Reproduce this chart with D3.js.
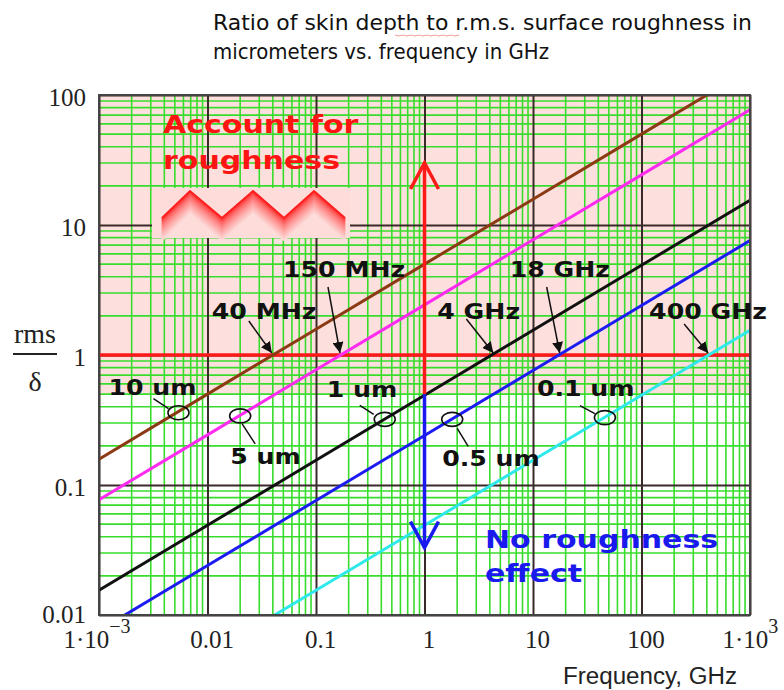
<!DOCTYPE html>
<html>
<head>
<meta charset="utf-8">
<script src="https://cdn.jsdelivr.net/npm/d3@7"></script>
<style>
  body { margin: 0; background: #fff; }
</style>
</head>
<body>
<svg id="chart" width="784" height="690"></svg>
<script>
// ---- data ----
const freqGHz = [0.001, 0.01, 0.1, 1, 10, 100, 1000];
const ratio10um = [0.158, 0.50, 1.58, 5.0, 15.8, 50, 158];
const ratio5um = [0.077, 0.243, 0.77, 2.43, 7.7, 24.3, 77];
const ratio1um = [0.0155, 0.049, 0.155, 0.49, 1.55, 4.9, 15.5];
const ratio05um = [0.0076, 0.024, 0.076, 0.24, 0.76, 2.4, 7.6];
const ratio01um = [0.0015, 0.0049, 0.0155, 0.049, 0.155, 0.49, 1.55];

const roughnessLabels = ["10 um", "5 um", "1 um", "0.5 um", "0.1 um"];
const markerFreqGHz = [0.0054, 0.02, 0.43, 1.8, 46];
const markerRatio = [0.36, 0.34, 0.32, 0.32, 0.33];

const crossingLabels = ["40 MHz", "150 MHz", "4 GHz", "18 GHz", "400 GHz"];
const crossingFreqGHz = [0.04, 0.17, 4.4, 18, 420];

const xTickValues = [0.001, 0.01, 0.1, 1, 10, 100, 1000];
const xTickLabels = ["1·10", "0.01", "0.1", "1", "10", "100", "1·10"];
const yTickValues = [0.01, 0.1, 1, 10, 100];
const yTickLabels = ["0.01", "0.1", "1", "10", "100"];

const thresholdRatio = 1;     // red line
const arrowBase = 0.5;        // where red/blue arrows meet
const arrowUpTip = 30;
const arrowDownTip = 0.033;
const arrowFreq = 1;

// ---- layout ----
const svg = d3.select("#chart");
const L = 99, R = 750, T = 95, B = 615;
const x = d3.scaleLog().domain([1e-3, 1e3]).range([L, R]);
const y = d3.scaleLog().domain([0.01, 100]).range([B, T]);

const series = [
  { values: ratio10um, color: "#8c3a14" },
  { values: ratio5um, color: "#ff2bf0" },
  { values: ratio1um, color: "#111111" },
  { values: ratio05um, color: "#1c1cf2" },
  { values: ratio01um, color: "#2ee8ea" },
];

const boldFont = "'DejaVu Sans', Verdana, sans-serif";
const serifFont = "'Liberation Serif', 'Times New Roman', serif";

// the reference text is stretched horizontally
function stretch(sel, k) {
  sel.each(function () {
    const n = this.getComputedTextLength();
    d3.select(this).attr("textLength", n * k).attr("lengthAdjust", "spacingAndGlyphs");
  });
  return sel;
}

// title
const title = svg.append("g").attr("font-family", boldFont).attr("font-size", 22).attr("fill", "#111");
title.append("text").attr("x", 213).attr("y", 30)
  .text("Ratio of skin depth to r.m.s. surface roughness in")
  .attr("textLength", 539).attr("lengthAdjust", "spacingAndGlyphs");
title.append("text").attr("x", 213).attr("y", 59)
  .text("micrometers vs. frequency in GHz")
  .attr("textLength", 336).attr("lengthAdjust", "spacingAndGlyphs");
// spell-check squiggle under r.m.s
const sq = d3.range(0, 17).map((i) => [395 + i * 4, 35 + (i % 2)]);
svg.append("path").attr("d", d3.line()(sq)).attr("fill", "none")
  .attr("stroke", "#f29a9a").attr("stroke-width", 1);

// background regions
svg.append("rect").attr("x", L).attr("y", T).attr("width", R - L).attr("height", B - T).attr("fill", "#fff");
svg.append("rect").attr("x", L).attr("y", y(100)).attr("width", R - L)
  .attr("height", y(arrowBase) - y(100)).attr("fill", "#fde0dd");

// grid
const minorX = x.ticks().filter((v) => !xTickValues.includes(v));
const minorY = y.ticks().filter((v) => !yTickValues.includes(v));
const grid = svg.append("g");
const green = "#38dc2c";
grid.selectAll("line.gx").data(minorX).join("line").attr("class", "gx")
  .attr("x1", (d) => x(d)).attr("x2", (d) => x(d)).attr("y1", T).attr("y2", B)
  .attr("stroke", green).attr("stroke-width", 1.6);
grid.selectAll("line.gy").data(minorY).join("line").attr("class", "gy")
  .attr("y1", (d) => y(d)).attr("y2", (d) => y(d)).attr("x1", L).attr("x2", R)
  .attr("stroke", green).attr("stroke-width", 1.6);

// decade lines + labels via axes
const xAxis = svg.append("g").attr("transform", `translate(0,${B})`)
  .call(d3.axisBottom(x).tickValues(xTickValues).tickSize(-(B - T)).tickPadding(14)
    .tickFormat((d, i) => xTickLabels[i]));
const yAxis = svg.append("g").attr("transform", `translate(${L},0)`)
  .call(d3.axisLeft(y).tickValues(yTickValues).tickSize(-(R - L)).tickPadding(13)
    .tickFormat((d, i) => yTickLabels[i]));
[xAxis, yAxis].forEach((a) => {
  a.select(".domain").remove();
  a.selectAll(".tick line").attr("stroke", "#3a2a2a").attr("stroke-width", 2);
  a.selectAll(".tick text").attr("font-family", serifFont).attr("font-size", 25).attr("fill", "#222");
});
xAxis.selectAll(".tick text").attr("dy", "0.74em").attr("dx", 4);
yAxis.selectAll(".tick text").attr("dy", "0.42em");
yAxis.selectAll(".tick text").filter((d) => d === 0.01).attr("dy", "0.3em");
// superscript exponents on the end labels
xAxis.selectAll(".tick text").filter((d, i) => i === 0 || i === xTickValues.length - 1)
  .attr("text-anchor", "start")
  .attr("dx", (d, i) => (i === 0 ? -36 : -28))
  .each(function (d) {
    d3.select(this).append("tspan").attr("font-size", 20).attr("dy", "-0.75em")
      .text(d < 1 ? "\u22123" : "3");
  });

// zigzag roughness picture
const zz = svg.append("g");
zz.append("rect").attr("x", 152).attr("y", 188).attr("width", 198).attr("height", 50).attr("fill", "#fddcda");
const zig = [[162, 218], [190, 191], [222, 218], [253, 191], [284, 218], [314, 191], [345, 218]];
const fade = d3.interpolateRgb("#ff1f1f", "#fddcda");
d3.range(22, -1, -1).forEach((k) => {
  zz.append("path")
    .attr("d", d3.line()(zig.map(([a, b]) => [a, b + k])))
    .attr("fill", "none").attr("stroke", fade(Math.pow(k / 22, 0.6)))
    .attr("stroke-width", 2).attr("stroke-linejoin", "miter");
});

// threshold line
svg.append("line").attr("x1", L).attr("x2", R).attr("y1", y(thresholdRatio)).attr("y2", y(thresholdRatio))
  .attr("stroke", "#ff1a1a").attr("stroke-width", 3.5);

// curves
svg.append("clipPath").attr("id", "plotClip").append("rect")
  .attr("x", L).attr("y", T).attr("width", R - L).attr("height", B - T);
const line = d3.line().x((d) => x(d[0])).y((d) => y(d[1]));
svg.append("g").attr("clip-path", "url(#plotClip)")
  .selectAll("path").data(series).join("path")
  .attr("d", (s) => line(freqGHz.map((f, i) => [f, s.values[i]])))
  .attr("fill", "none").attr("stroke", (s) => s.color).attr("stroke-width", 3);

// plot border
svg.append("rect").attr("x", L).attr("y", T).attr("width", R - L).attr("height", B - T)
  .attr("fill", "none").attr("stroke", "#444").attr("stroke-width", 2);

// up / down arrows
const ax = x(arrowFreq);
function vArrow(y0, y1, color) {
  const dir = y1 < y0 ? 1 : -1;
  const g = svg.append("g").attr("stroke", color).attr("stroke-width", 3.5).attr("fill", "none");
  g.append("line").attr("x1", ax).attr("x2", ax).attr("y1", y0).attr("y2", y1);
  g.append("path").attr("stroke-linejoin", "miter")
    .attr("d", d3.line()([[ax - 14, y1 + dir * 26], [ax, y1], [ax + 14, y1 + dir * 26]]));
}
vArrow(y(arrowBase), y(arrowUpTip), "#ff1a1a");
vArrow(y(arrowBase), y(arrowDownTip), "#1a1aee");

// region captions
const cap = svg.append("g").attr("font-family", boldFont).attr("font-weight", "bold").attr("font-size", 25);
stretch(cap.append("text").attr("x", 163).attr("y", 133).attr("fill", "#ff1414").text("Account for"), 1.2);
stretch(cap.append("text").attr("x", 163).attr("y", 169).attr("fill", "#ff1414").text("roughness"), 1.2);
stretch(cap.append("text").attr("x", 485).attr("y", 548).attr("fill", "#1a1aee").text("No roughness"), 1.2);
stretch(cap.append("text").attr("x", 485).attr("y", 582).attr("fill", "#1a1aee").text("effect"), 1.2);

// crossing frequency callouts
svg.append("defs").append("marker").attr("id", "head").attr("viewBox", "0 0 10 10")
  .attr("refX", 10).attr("refY", 5).attr("markerWidth", 11).attr("markerHeight", 11)
  .attr("markerUnits", "userSpaceOnUse").attr("orient", "auto")
  .append("path").attr("d", "M0,0 L10,5 L0,10 z").attr("fill", "#111");
const crossOffsets = [
  { tx: -61, ty: -36, ax: -24, ay: -34 },
  { tx: -58, ty: -78, ax: -13, ay: -68 },
  { tx: -57, ty: -36, ax: -28, ay: -36 },
  { tx: -51, ty: -78, ax: -14, ay: -68 },
  { tx: -60, ty: -36, ax: -25, ay: -31 },
];
const cross = svg.append("g").attr("font-family", boldFont).attr("font-weight", "bold")
  .attr("font-size", 21).attr("fill", "#111");
crossingLabels.forEach((lab, i) => {
  const px = x(crossingFreqGHz[i]), py = y(thresholdRatio);
  const o = crossOffsets[i];
  stretch(cross.append("text").attr("x", px + o.tx).attr("y", py + o.ty).text(lab), 1.2);
  cross.append("line").attr("x1", px + o.ax).attr("y1", py + o.ay).attr("x2", px - 1).attr("y2", py - 2)
    .attr("stroke", "#111").attr("stroke-width", 1.5).attr("marker-end", "url(#head)");
});

// roughness markers (ellipse + leader + label)
const markOffsets = [
  { tx: -70, ty: -18, l: [-25, -14, -10, -4] },
  { tx: -10, ty: 48, l: [2, 8, 15, 28] },
  { tx: -58, ty: -22, l: [-25, -14, -11, -5] },
  { tx: -10, ty: 47, l: [5, 9, 16, 27] },
  { tx: -68, ty: -22, l: [-25, -12, -10, -4] },
];
const marks = svg.append("g").attr("font-family", boldFont).attr("font-weight", "bold")
  .attr("font-size", 21).attr("fill", "#111");
roughnessLabels.forEach((lab, i) => {
  const cx = x(markerFreqGHz[i]), cy = y(markerRatio[i]);
  const o = markOffsets[i];
  marks.append("ellipse").attr("cx", cx).attr("cy", cy).attr("rx", 10.5).attr("ry", 7)
    .attr("fill", "none").attr("stroke", "#111").attr("stroke-width", 1.6);
  marks.append("line").attr("x1", cx + o.l[0]).attr("y1", cy + o.l[1]).attr("x2", cx + o.l[2]).attr("y2", cy + o.l[3])
    .attr("stroke", "#111").attr("stroke-width", 1.5);
  stretch(marks.append("text").attr("x", cx + o.tx).attr("y", cy + o.ty).text(lab), 1.2);
});

// axis titles
stretch(svg.append("text").attr("x", 563).attr("y", 684).attr("font-family", "'Liberation Sans', Arial, sans-serif")
  .attr("font-size", 23).attr("fill", "#222").text("Frequency, GHz"), 1.05);
const yl = svg.append("g").attr("font-family", serifFont).attr("font-size", 28).attr("fill", "#222")
  .attr("text-anchor", "middle");
yl.append("text").attr("x", 35).attr("y", 343).text("rms");
yl.append("line").attr("x1", 13).attr("x2", 57).attr("y1", 354).attr("y2", 354).attr("stroke", "#222").attr("stroke-width", 2);
yl.append("text").attr("x", 35).attr("y", 391).text("δ");
</script>
</body>
</html>
